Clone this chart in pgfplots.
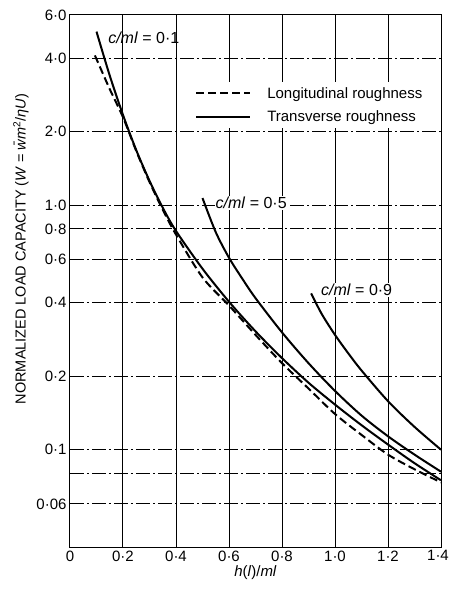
\documentclass[border=0pt]{standalone}
\usepackage{pgfplots}
\pgfplotsset{compat=1.18}
\usepackage{fontspec}
\setmainfont{Liberation Sans}
\begin{document}
\begin{tikzpicture}
\begin{axis}[
  name=ax,
  scale only axis, width=371pt, height=532pt,
  xmin=0, xmax=1.4, ymode=log, ymin=0.04, ymax=6,
  xtick={0,0.2,0.4,0.6,0.8,1.0,1.2,1.4},
  xticklabels={0,0·2,0·4,0·6,0·8,1·0,1·2,\hspace*{-6pt}1·4},
  ytick={0.06,0.1,0.2,0.4,0.6,0.8,1,2,4,6},
  yticklabels={0·06,0·1,0·2,0·4,0·6,0·8,1·0,2·0,4·0,6·0},
  extra y ticks={0.08},
  extra y tick labels={\phantom{0}},
  yminorticks=false,
  major tick length=0pt,
  grid=major,
  major x grid style={black, line width=1pt},
  major y grid style={black, line width=1pt, dash pattern=on 14pt off 3pt on 2pt off 3pt},
  axis line style={black, line width=1pt},
  tick label style={font=\fontsize{15}{15}\selectfont},
  xlabel={\textit{h}(\textit{l})/\textit{ml}},
  xlabel style={font=\fontsize{15}{15}\selectfont, at={(axis description cs:0.5,0)}, anchor=center, yshift=-26pt},
  ylabel={NORMALIZED LOAD CAPACITY (\textit{W} = \textit{\=wm}\textsuperscript{2}/\textit{ηU})},
  ylabel style={font=\fontsize{14.5}{14.5}\selectfont, at={(axis description cs:-0.132,0.56)}, anchor=center},
  legend style={draw=none, fill=white, at={(0.329,0.874)}, anchor=north west,
    font=\fontsize{15}{15}\selectfont, row sep=7pt, inner sep=3pt,
    /tikz/every odd column/.append style={column sep=14pt}},
  legend cell align=left,
  legend image code/.code={\draw[#1] (0pt,0pt) -- (54pt,0pt);},
]
% dashed: longitudinal roughness
\addplot[black, line width=2pt, dash pattern=on 8pt off 4pt, smooth] coordinates {
(0.094,4.10) (0.15,2.985) (0.2,2.291) (0.25,1.667) (0.3,1.245) (0.35,0.959) (0.4,0.759)
(0.5,0.507) (0.6,0.389) (0.7,0.295) (0.8,0.226) (0.9,0.178) (1.0,0.140) (1.1,0.115)
(1.2,0.0955) (1.3,0.0832) (1.4,0.0735)};
\addlegendentry{Longitudinal roughness}
% solid c/ml = 0.1
\addplot[black, line width=2pt, smooth] coordinates {
(0.1,5.13) (0.15,3.39) (0.2,2.34) (0.25,1.68) (0.3,1.259) (0.35,0.977) (0.4,0.785)
(0.5,0.550) (0.6,0.403) (0.7,0.305) (0.8,0.237) (0.9,0.188) (1.0,0.153) (1.1,0.126)
(1.2,0.105) (1.3,0.0881) (1.4,0.0750)};
\addlegendentry{Transverse roughness}
% solid c/ml = 0.5
\addplot[black, line width=2pt, smooth, forget plot] coordinates {
(0.5,1.07) (0.55,0.776) (0.6,0.610) (0.65,0.501) (0.7,0.417) (0.8,0.302) (0.9,0.226)
(1.0,0.174) (1.1,0.138) (1.2,0.1135) (1.3,0.0955) (1.4,0.0813)};
% solid c/ml = 0.9
\addplot[black, line width=2pt, smooth, forget plot] coordinates {
(0.91,0.436) (0.95,0.359) (1.0,0.295) (1.05,0.248) (1.1,0.211) (1.2,0.158) (1.3,0.124) (1.4,0.100)};
\node[anchor=west, inner sep=1pt, font=\fontsize{16}{16}\selectfont] at (axis cs:0.14,4.85) {\textit{c/ml} = 0·1};
\node[anchor=west, fill=white, inner sep=1pt, font=\fontsize{16}{16}\selectfont] at (axis cs:0.545,1.02) {\textit{c/ml} = 0·5};
\node[anchor=west, fill=white, inner sep=1pt, font=\fontsize{16}{16}\selectfont] at (axis cs:0.943,0.45) {\textit{c/ml} = 0·9};
\end{axis}
\pgfresetboundingbox
\useasboundingbox ([shift={(-70pt,-45pt)}]ax.south west) rectangle ([shift={(8pt,15pt)}]ax.north east);
\end{tikzpicture}
\end{document}
